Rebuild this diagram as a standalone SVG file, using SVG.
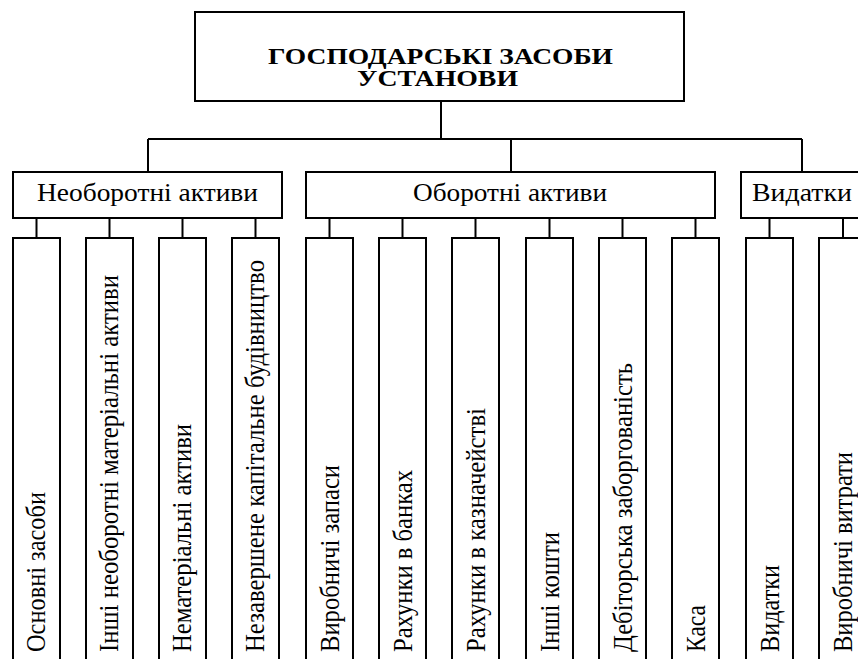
<svg xmlns="http://www.w3.org/2000/svg" width="858" height="659" viewBox="0 0 858 659">
<style>
.box{fill:#fff;stroke:#000;stroke-width:2}
.ln{fill:none;stroke:#000;stroke-width:2}
.t{font-family:"Liberation Serif","Times New Roman","DejaVu Serif",serif;fill:#000}
.title{font-size:23px;font-weight:bold;text-anchor:middle}
.cat{font-size:26px}
.leaf{font-size:27px}
</style>
<rect width="858" height="659" fill="#fff"/>
<g id="connectors">
<path class="ln" d="M441,101 V139 M148,139 H802 M148,139 V172 M511,139 V172 M802,139 V172"/>
<path class="ln" d="M36.5,218 V238 M109.5,218 V238 M182.5,218 V238 M255.5,218 V238"/>
<path class="ln" d="M329.5,218 V238 M402.5,218 V238 M475.5,218 V238 M549.5,218 V238 M622.5,218 V238 M695.5,218 V238"/>
<path class="ln" d="M769.5,218 V238 M843,218 V238"/>
</g>
<g id="root">
<rect class="box" x="195" y="12" width="489" height="89"/>
<text class="t title" x="440.5" y="64" textLength="345" lengthAdjust="spacingAndGlyphs">ГОСПОДАРСЬКІ ЗАСОБИ</text>
<text class="t title" x="437.5" y="86" textLength="161" lengthAdjust="spacingAndGlyphs">УСТАНОВИ</text>
</g>
<g id="noncurrent">
<rect class="box" x="13" y="172" width="269" height="46"/>
<text class="t cat" x="37" y="201" textLength="221" lengthAdjust="spacingAndGlyphs">Необоротні активи</text>
</g>
<g id="current">
<rect class="box" x="306" y="172" width="409" height="46"/>
<text class="t cat" x="413" y="201" textLength="194" lengthAdjust="spacingAndGlyphs">Оборотні активи</text>
</g>
<g id="expenses">
<rect class="box" x="741" y="172" width="140" height="46"/>
<text class="t cat" x="752" y="201" textLength="100" lengthAdjust="spacingAndGlyphs">Видатки</text>
</g>
<g id="leaf1"><rect class="box" x="13" y="238" width="47" height="440"/>
<text class="t leaf" transform="translate(45,652) rotate(-90)" textLength="160" lengthAdjust="spacingAndGlyphs">Основні засоби</text></g>
<g id="leaf2"><rect class="box" x="86" y="238" width="47" height="440"/>
<text class="t leaf" transform="translate(118,652) rotate(-90)" textLength="377" lengthAdjust="spacingAndGlyphs">Інші необоротні матеріальні активи</text></g>
<g id="leaf3"><rect class="box" x="159" y="238" width="47" height="440"/>
<text class="t leaf" transform="translate(191,652) rotate(-90)" textLength="228" lengthAdjust="spacingAndGlyphs">Нематеріальні активи</text></g>
<g id="leaf4"><rect class="box" x="232" y="238" width="47" height="440"/>
<text class="t leaf" transform="translate(264,652) rotate(-90)" textLength="392" lengthAdjust="spacingAndGlyphs">Незавершене капітальне будівництво</text></g>
<g id="leaf5"><rect class="box" x="306" y="238" width="47" height="440"/>
<text class="t leaf" transform="translate(339,652) rotate(-90)" textLength="187" lengthAdjust="spacingAndGlyphs">Виробничі запаси</text></g>
<g id="leaf6"><rect class="box" x="379" y="238" width="47" height="440"/>
<text class="t leaf" transform="translate(412,652) rotate(-90)" textLength="182" lengthAdjust="spacingAndGlyphs">Рахунки в банках</text></g>
<g id="leaf7"><rect class="box" x="452" y="238" width="47" height="440"/>
<text class="t leaf" transform="translate(485,652) rotate(-90)" textLength="244" lengthAdjust="spacingAndGlyphs">Рахунки в казначействі</text></g>
<g id="leaf8"><rect class="box" x="526" y="238" width="47" height="440"/>
<text class="t leaf" transform="translate(559,652) rotate(-90)" textLength="120" lengthAdjust="spacingAndGlyphs">Інші кошти</text></g>
<g id="leaf9"><rect class="box" x="599" y="238" width="47" height="440"/>
<text class="t leaf" transform="translate(632,652) rotate(-90)" textLength="289" lengthAdjust="spacingAndGlyphs">Дебіторська заборгованість</text></g>
<g id="leaf10"><rect class="box" x="672" y="238" width="47" height="440"/>
<text class="t leaf" transform="translate(705,652) rotate(-90)" textLength="47" lengthAdjust="spacingAndGlyphs">Каса</text></g>
<g id="leaf11"><rect class="box" x="746" y="238" width="47" height="440"/>
<text class="t leaf" transform="translate(779,652) rotate(-90)" textLength="87" lengthAdjust="spacingAndGlyphs">Видатки</text></g>
<g id="leaf12"><rect class="box" x="819" y="238" width="47" height="440"/>
<text class="t leaf" transform="translate(852,652) rotate(-90)" textLength="200" lengthAdjust="spacingAndGlyphs">Виробничі витрати</text></g>
</svg>
